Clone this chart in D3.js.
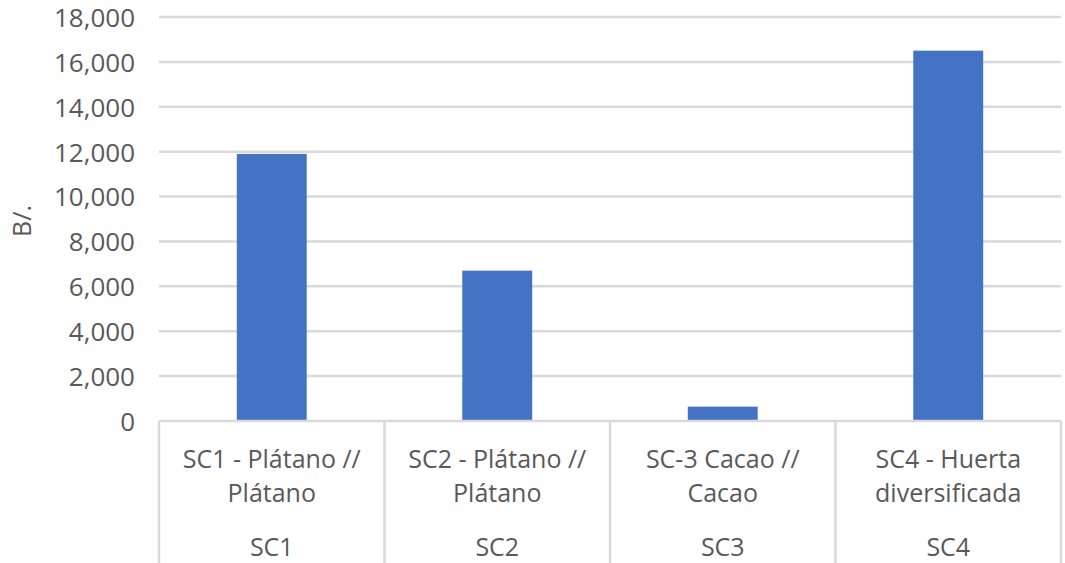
<!DOCTYPE html>
<html>
<head>
<meta charset="utf-8">
<script src="https://cdn.jsdelivr.net/npm/d3@7"></script>
<style>
  html, body { margin: 0; padding: 0; background: #ffffff; }
  svg { display: block; }
  text { font-family: "Open Sans", "Liberation Sans", sans-serif; fill: #595959; }
</style>
</head>
<body>
<svg id="chart" width="1065" height="563"></svg>
<script>
// ---- data ----
const categories = ["SC1", "SC2", "SC3", "SC4"];
const categoryLabels = [
  ["SC1 - Plátano //", "Plátano"],
  ["SC2 - Plátano //", "Plátano"],
  ["SC-3 Cacao //", "Cacao"],
  ["SC4 - Huerta", "diversificada"]
];
const values = [11900, 6700, 640, 16500];
const yTicks = [0, 2000, 4000, 6000, 8000, 10000, 12000, 14000, 16000, 18000];
const yAxisTitle = "B/.";

// ---- layout ----
const W = 1065, H = 563;
const plotLeft = 159, plotRight = 1061, plotTop = 17, plotBottom = 421;
const gridColor = "#d9d9d9";
const barColor = "#4472c4";
const fontSize = 25;

const svg = d3.select("#chart");

const x = d3.scaleBand().domain(categories).range([plotLeft, plotRight]).paddingInner(0).paddingOuter(0);
const y = d3.scaleLinear().domain([0, 18000]).range([plotBottom, plotTop]);
const fmt = d3.format(",");

// gridlines
svg.append("g").selectAll("line")
  .data(yTicks.filter(t => t > 0))
  .join("line")
  .attr("x1", plotLeft).attr("x2", plotRight)
  .attr("y1", d => y(d)).attr("y2", d => y(d))
  .attr("stroke", gridColor).attr("stroke-width", 2.5);

// y tick labels via d3 axis
const yAxis = svg.append("g")
  .attr("transform", `translate(${plotLeft - 24},0)`)
  .call(d3.axisLeft(y).tickValues(yTicks).tickFormat(fmt).tickSize(0).tickPadding(0));
yAxis.select(".domain").remove();
yAxis.selectAll("text")
  .attr("font-size", 26)
  .attr("font-family", null)
  .style("fill", "#595959")
  .attr("dy", "0.36em");

// axis title
svg.append("text")
  .attr("transform", `translate(31,${(plotTop + plotBottom) / 2 + 2}) rotate(-90)`)
  .attr("text-anchor", "middle")
  .attr("font-size", fontSize)
  .text(yAxisTitle);

// bars
const barFrac = 0.31;
svg.append("g").selectAll("rect")
  .data(categories.map((c, i) => ({ c, v: values[i] })))
  .join("rect")
  .attr("x", d => x(d.c) + x.bandwidth() * (1 - barFrac) / 2)
  .attr("width", x.bandwidth() * barFrac)
  .attr("y", d => y(d.v))
  .attr("height", d => y(0) - y(d.v))
  .attr("fill", barColor);

// category axis line
svg.append("line")
  .attr("x1", plotLeft).attr("x2", plotRight)
  .attr("y1", y(0)).attr("y2", y(0))
  .attr("stroke", gridColor).attr("stroke-width", 2.5);

// separators (multi-level)
const seps = categories.map(c => x(c)).concat([x(categories[categories.length - 1]) + x.bandwidth()]);
svg.append("g").selectAll("line")
  .data(seps)
  .join("line")
  .attr("x1", d => d).attr("x2", d => d)
  .attr("y1", y(0)).attr("y2", H)
  .attr("stroke", gridColor).attr("stroke-width", 2.5);

// level-1 labels
const lab = svg.append("g").selectAll("text")
  .data(categories.map((c, i) => ({ c, lines: categoryLabels[i] })))
  .join("text")
  .attr("text-anchor", "middle")
  .attr("font-size", fontSize)
  .attr("x", d => x(d.c) + x.bandwidth() / 2)
  .attr("y", 468);
lab.selectAll("tspan")
  .data(d => d.lines.map(l => ({ l, cx: x(d.c) + x.bandwidth() / 2 })))
  .join("tspan")
  .attr("x", d => d.cx)
  .attr("dy", (d, i) => i === 0 ? 0 : 34)
  .text(d => d.l);

// level-2 labels
svg.append("g").selectAll("text")
  .data(categories)
  .join("text")
  .attr("text-anchor", "middle")
  .attr("font-size", fontSize)
  .attr("x", d => x(d) + x.bandwidth() / 2)
  .attr("y", 556)
  .text(d => d);
</script>
</body>
</html>
